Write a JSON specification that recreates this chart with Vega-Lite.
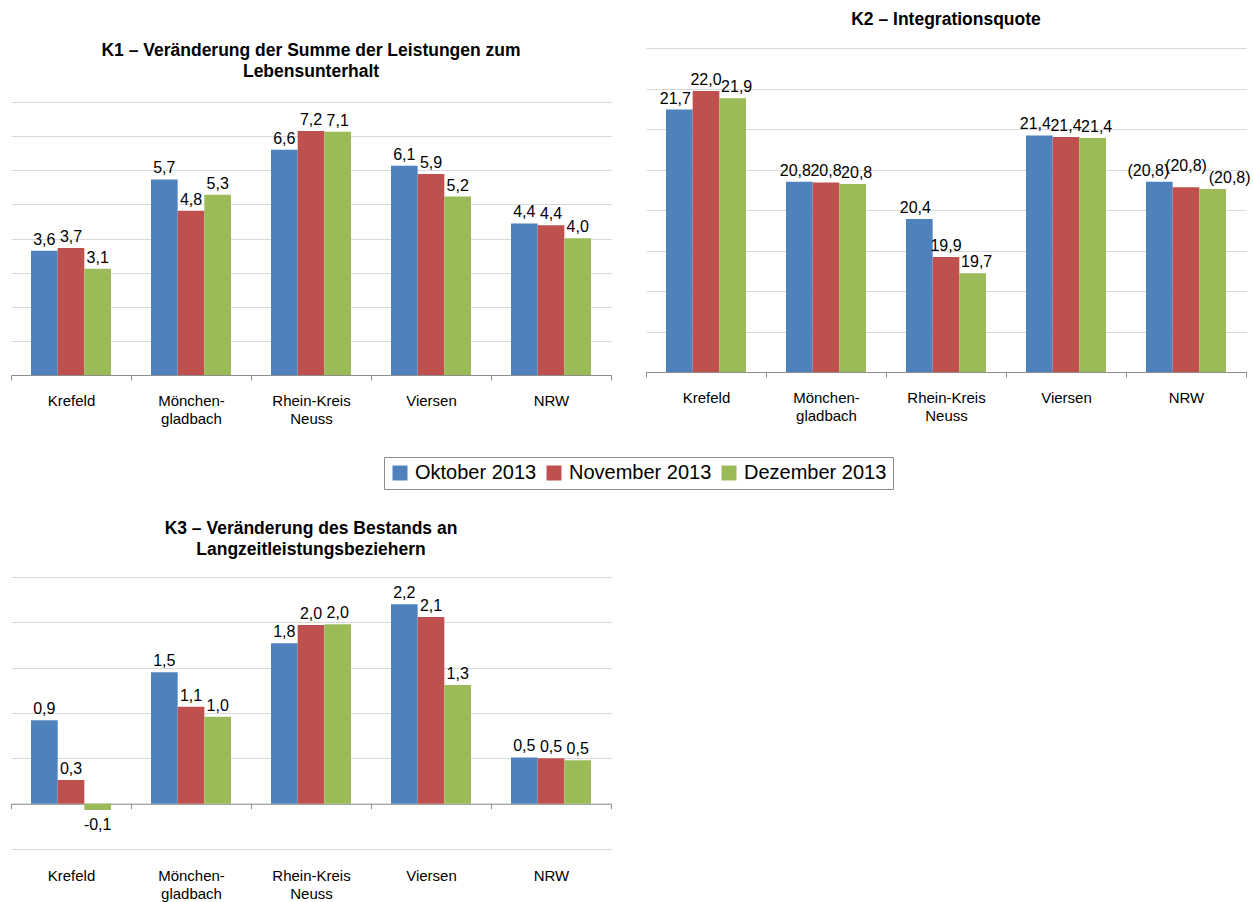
{
  "$schema": "https://vega.github.io/schema/vega-lite/v6.json",
  "padding": {"left": 10, "top": 9, "right": 2, "bottom": 0},
  "background": "white",
  "config": {
    "view": {"stroke": null},
    "font": "Liberation Sans",
    "title": {"font": "Liberation Sans", "fontSize": 17.5, "fontWeight": "bold", "anchor": "middle", "lineHeight": 21, "offset": 22, "color": "#000000"},
    "axis": {"labelFont": "Liberation Sans", "labelColor": "#000000", "title": null},
    "legend": {"labelFont": "Liberation Sans"}
  },
  "datasets": {
    "k1": [
      {"region": "Krefeld", "month": "Oktober 2013", "value": 3.64, "label": "3,6"},
      {"region": "Krefeld", "month": "November 2013", "value": 3.72, "label": "3,7"},
      {"region": "Krefeld", "month": "Dezember 2013", "value": 3.11, "label": "3,1"},
      {"region": "Mönchengladbach", "month": "Oktober 2013", "value": 5.73, "label": "5,7"},
      {"region": "Mönchengladbach", "month": "November 2013", "value": 4.81, "label": "4,8"},
      {"region": "Mönchengladbach", "month": "Dezember 2013", "value": 5.28, "label": "5,3"},
      {"region": "Rhein-Kreis Neuss", "month": "Oktober 2013", "value": 6.6, "label": "6,6"},
      {"region": "Rhein-Kreis Neuss", "month": "November 2013", "value": 7.15, "label": "7,2"},
      {"region": "Rhein-Kreis Neuss", "month": "Dezember 2013", "value": 7.13, "label": "7,1"},
      {"region": "Viersen", "month": "Oktober 2013", "value": 6.13, "label": "6,1"},
      {"region": "Viersen", "month": "November 2013", "value": 5.89, "label": "5,9"},
      {"region": "Viersen", "month": "Dezember 2013", "value": 5.23, "label": "5,2"},
      {"region": "NRW", "month": "Oktober 2013", "value": 4.44, "label": "4,4"},
      {"region": "NRW", "month": "November 2013", "value": 4.39, "label": "4,4"},
      {"region": "NRW", "month": "Dezember 2013", "value": 4.01, "label": "4,0"}
    ],
    "k2": [
      {"region": "Krefeld", "month": "Oktober 2013", "value": 21.74, "label": "21,7"},
      {"region": "Krefeld", "month": "November 2013", "value": 21.97, "label": "22,0"},
      {"region": "Krefeld", "month": "Dezember 2013", "value": 21.88, "label": "21,9"},
      {"region": "Mönchengladbach", "month": "Oktober 2013", "value": 20.85, "label": "20,8"},
      {"region": "Mönchengladbach", "month": "November 2013", "value": 20.84, "label": "20,8"},
      {"region": "Mönchengladbach", "month": "Dezember 2013", "value": 20.82, "label": "20,8"},
      {"region": "Rhein-Kreis Neuss", "month": "Oktober 2013", "value": 20.39, "label": "20,4"},
      {"region": "Rhein-Kreis Neuss", "month": "November 2013", "value": 19.92, "label": "19,9"},
      {"region": "Rhein-Kreis Neuss", "month": "Dezember 2013", "value": 19.72, "label": "19,7"},
      {"region": "Viersen", "month": "Oktober 2013", "value": 21.42, "label": "21,4"},
      {"region": "Viersen", "month": "November 2013", "value": 21.4, "label": "21,4"},
      {"region": "Viersen", "month": "Dezember 2013", "value": 21.39, "label": "21,4"},
      {"region": "NRW", "month": "Oktober 2013", "value": 20.85, "label": "(20,8)"},
      {"region": "NRW", "month": "November 2013", "value": 20.78, "label": "(20,8)"},
      {"region": "NRW", "month": "Dezember 2013", "value": 20.76, "label": "(20,8)"}
    ],
    "k3": [
      {"region": "Krefeld", "month": "Oktober 2013", "value": 0.92, "label": "0,9"},
      {"region": "Krefeld", "month": "November 2013", "value": 0.26, "label": "0,3"},
      {"region": "Krefeld", "month": "Dezember 2013", "value": -0.07, "label": "-0,1"},
      {"region": "Mönchengladbach", "month": "Oktober 2013", "value": 1.45, "label": "1,5"},
      {"region": "Mönchengladbach", "month": "November 2013", "value": 1.07, "label": "1,1"},
      {"region": "Mönchengladbach", "month": "Dezember 2013", "value": 0.96, "label": "1,0"},
      {"region": "Rhein-Kreis Neuss", "month": "Oktober 2013", "value": 1.77, "label": "1,8"},
      {"region": "Rhein-Kreis Neuss", "month": "November 2013", "value": 1.97, "label": "2,0"},
      {"region": "Rhein-Kreis Neuss", "month": "Dezember 2013", "value": 1.98, "label": "2,0"},
      {"region": "Viersen", "month": "Oktober 2013", "value": 2.2, "label": "2,2"},
      {"region": "Viersen", "month": "November 2013", "value": 2.06, "label": "2,1"},
      {"region": "Viersen", "month": "Dezember 2013", "value": 1.31, "label": "1,3"},
      {"region": "NRW", "month": "Oktober 2013", "value": 0.51, "label": "0,5"},
      {"region": "NRW", "month": "November 2013", "value": 0.5, "label": "0,5"},
      {"region": "NRW", "month": "Dezember 2013", "value": 0.48, "label": "0,5"}
    ]
  },
  "spacing": 93,
  "vconcat": [
    {
      "spacing": 33,
      "hconcat": [
        {
          "spacing": 0,
          "vconcat": [
            {"width": 600, "height": 32, "data": {"values": []}, "mark": {"type": "point", "opacity": 0}},
            {
              "width": 600, "height": 273,
              "title": {"text": ["K1 – Veränderung der Summe der Leistungen zum", "Lebensunterhalt"]},
              "data": {"name": "k1"},
              "encoding": {
                "x": {"field": "region", "type": "nominal", "sort": ["Krefeld", "Mönchengladbach", "Rhein-Kreis Neuss", "Viersen", "NRW"],
                  "scale": {"paddingInner": 0, "paddingOuter": 0},
                  "axis": {"labelAngle": 0, "labelFontSize": 15, "labelLineHeight": 18, "labelPadding": 13, "labelBaseline": "top", "domainColor": "#8c8c8c", "tickColor": "#8c8c8c", "tickSize": 5, "tickBand": "extent", "grid": false,
                    "labelExpr": "datum.label == 'Mönchengladbach' ? ['Mönchen-', 'gladbach'] : datum.label == 'Rhein-Kreis Neuss' ? ['Rhein-Kreis', 'Neuss'] : datum.label"}},
                "xOffset": {"field": "month", "type": "nominal", "sort": ["Oktober 2013", "November 2013", "Dezember 2013"], "scale": {"paddingInner": 0, "paddingOuter": 0.75}},
                "y": {"field": "value", "type": "quantitative", "scale": {"domain": [0, 8], "nice": false, "zero": true},
                  "axis": {"values": [0, 1, 2, 3, 4, 5, 6, 7, 8], "labels": false, "ticks": false, "domain": false, "grid": true, "gridColor": "#d9d9d9"}}
              },
              "layer": [
                {"mark": {"type": "bar"},
                  "encoding": {"color": {"field": "month", "type": "nominal", "sort": ["Oktober 2013", "November 2013", "Dezember 2013"],
                    "scale": {"domain": ["Oktober 2013", "November 2013", "Dezember 2013"], "range": ["#4F81BD", "#C0504D", "#9BBB59"]},
                    "legend": {"orient": "none", "legendX": 373, "legendY": 448, "direction": "horizontal", "title": null, "symbolType": "square", "symbolSize": 225, "symbolStrokeWidth": 0, "labelFontSize": 20, "labelColor": "#000000", "labelOffset": 5, "columnPadding": 7, "strokeColor": "#8c8c8c", "fillColor": "white", "padding": 6}}}},
                {"mark": {"type": "text", "baseline": "bottom", "dy": -3, "fontSize": 16, "color": "#000000"},
                  "encoding": {"text": {"field": "label"}}}
              ]
            }
          ]
        },
        {
          "spacing": 0,
          "vconcat": [
            {"width": 600, "height": 1, "data": {"values": []}, "mark": {"type": "point", "opacity": 0}},
            {
              "width": 600, "height": 324,
              "title": {"text": "K2 – Integrationsquote", "offset": 20},
              "data": {"name": "k2"},
              "encoding": {
                "x": {"field": "region", "type": "nominal", "sort": ["Krefeld", "Mönchengladbach", "Rhein-Kreis Neuss", "Viersen", "NRW"],
                  "scale": {"paddingInner": 0, "paddingOuter": 0},
                  "axis": {"labelAngle": 0, "labelFontSize": 15, "labelLineHeight": 18, "labelPadding": 13, "labelBaseline": "top", "domainColor": "#8c8c8c", "tickColor": "#8c8c8c", "tickSize": 5, "tickBand": "extent", "grid": false,
                    "labelExpr": "datum.label == 'Mönchengladbach' ? ['Mönchen-', 'gladbach'] : datum.label == 'Rhein-Kreis Neuss' ? ['Rhein-Kreis', 'Neuss'] : datum.label"}},
                "xOffset": {"field": "month", "type": "nominal", "sort": ["Oktober 2013", "November 2013", "Dezember 2013"], "scale": {"paddingInner": 0, "paddingOuter": 0.75}},
                "y": {"field": "value", "type": "quantitative", "scale": {"domain": [18.5, 22.5], "nice": false, "zero": false},
                  "axis": {"values": [18.5, 19, 19.5, 20, 20.5, 21, 21.5, 22, 22.5], "labels": false, "ticks": false, "domain": false, "grid": true, "gridColor": "#d9d9d9"}}
              },
              "layer": [
                {"mark": {"type": "bar", "clip": true},
                  "encoding": {"y2": {"datum": 18.5}, "color": {"field": "month", "type": "nominal", "sort": ["Oktober 2013", "November 2013", "Dezember 2013"]}}},
                {"mark": {"type": "text", "baseline": "bottom", "fontSize": 16, "color": "#000000",
                    "dy": {"expr": "datum.region == 'NRW' && datum.month == 'November 2013' ? -13 : -3"},
                    "dx": {"expr": "datum.region == 'NRW' ? (datum.month == 'Oktober 2013' ? -11 : (datum.month == 'Dezember 2013' ? 17 : 0)) : (datum.month == 'Oktober 2013' ? -4 : (datum.month == 'Dezember 2013' ? 4 : 0))"}},
                  "encoding": {"text": {"field": "label"}}}
              ]
            }
          ]
        }
      ]
    },
    {
      "width": 600, "height": 272,
      "title": {"text": ["K3 – Veränderung des Bestands an", "Langzeitleistungsbeziehern"], "offset": 19},
      "data": {"name": "k3"},
      "encoding": {
        "x": {"field": "region", "type": "nominal", "sort": ["Krefeld", "Mönchengladbach", "Rhein-Kreis Neuss", "Viersen", "NRW"],
          "scale": {"paddingInner": 0, "paddingOuter": 0},
          "axis": {"labelAngle": 0, "labelFontSize": 15, "labelLineHeight": 18, "labelPadding": 60, "labelBaseline": "top", "offset": -45.33, "domainColor": "#8c8c8c", "tickColor": "#8c8c8c", "tickSize": 5, "tickBand": "extent", "grid": false,
            "labelExpr": "datum.label == 'Mönchengladbach' ? ['Mönchen-', 'gladbach'] : datum.label == 'Rhein-Kreis Neuss' ? ['Rhein-Kreis', 'Neuss'] : datum.label"}},
        "xOffset": {"field": "month", "type": "nominal", "sort": ["Oktober 2013", "November 2013", "Dezember 2013"], "scale": {"paddingInner": 0, "paddingOuter": 0.75}},
        "y": {"field": "value", "type": "quantitative", "scale": {"domain": [-0.5, 2.5], "nice": false},
          "axis": {"values": [-0.5, 0, 0.5, 1, 1.5, 2, 2.5], "labels": false, "ticks": false, "domain": false, "grid": true, "gridColor": "#d9d9d9"}}
      },
      "layer": [
        {"mark": {"type": "bar"},
          "encoding": {"color": {"field": "month", "type": "nominal", "sort": ["Oktober 2013", "November 2013", "Dezember 2013"]}}},
        {"transform": [{"filter": "datum.value >= 0"}],
          "mark": {"type": "text", "baseline": "bottom", "dy": -3, "fontSize": 16, "color": "#000000"},
          "encoding": {"text": {"field": "label"}}},
        {"transform": [{"filter": "datum.value < 0"}],
          "mark": {"type": "text", "baseline": "top", "dy": 7, "fontSize": 16, "color": "#000000"},
          "encoding": {"text": {"field": "label"}}}
      ]
    }
  ]
}
